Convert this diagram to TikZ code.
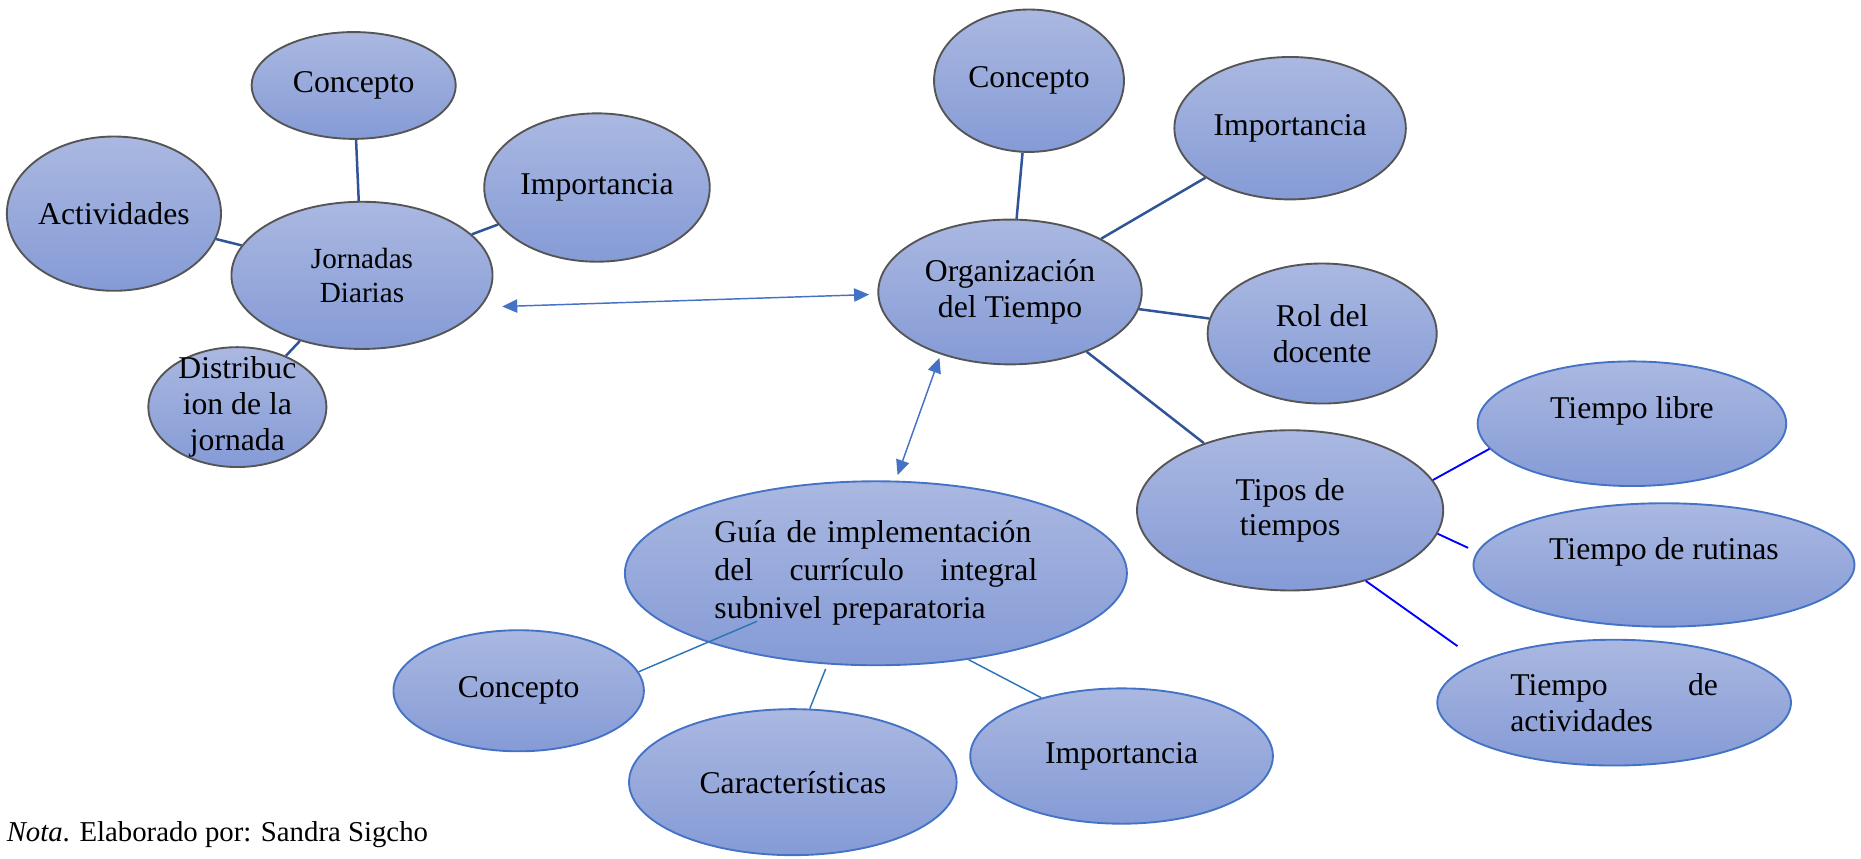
\documentclass[tikz,border=0pt]{standalone}
\usepackage{fontspec}
\setmainfont{Liberation Serif}
\usetikzlibrary{arrows.meta,calc,shapes.geometric}
\hyphenpenalty=10000

\definecolor{fillup}{RGB}{170,184,225}
\definecolor{filldown}{RGB}{133,155,214}
\definecolor{rimgray}{RGB}{85,85,85}
\definecolor{rimblue}{RGB}{68,114,196}
\definecolor{linkdark}{RGB}{47,85,151}
\definecolor{linkblue}{RGB}{0,0,255}
\definecolor{linklight}{RGB}{46,117,182}
\definecolor{arrowblue}{RGB}{68,114,196}

\begin{document}
\begin{tikzpicture}[x=0.1mm,y=-0.1mm,
  font=\fontsize{7.6}{8.6}\selectfont,
  burbuja/.style={ellipse,inner sep=0pt,top color=fillup,bottom color=filldown,draw=rimgray,line width=0.45pt,align=center},
  burbujaazul/.style={burbuja,draw=rimblue},
  rama/.style={draw=linkdark,line width=0.6pt},
  ramaazul/.style={draw=linkblue,line width=0.45pt},
  ramaclara/.style={draw=linklight,line width=0.35pt},
  doble/.style={draw=arrowblue,line width=0.35pt,{Triangle[length=3.6pt,width=3.2pt]}-{Triangle[length=3.6pt,width=3.2pt]}}]
\useasboundingbox (0,0) rectangle (1568,723);

\node[burbuja,minimum width=22mm,minimum height=12.4mm,font=\fontsize{7}{8.3}\selectfont] (jornadas) at (305,232) {Jornadas\\Diarias};
\node[burbuja,minimum width=17.2mm,minimum height=9mm] (jcon) at (298,72) {Concepto};
\node[burbuja,minimum width=19mm,minimum height=12.5mm] (jimp) at (503,158) {Importancia};
\node[burbuja,minimum width=17.2mm,minimum height=13mm] (jact) at (96,180) {Actividades};
\node[burbuja,minimum width=15mm,minimum height=10.1mm,label={[align=center]center:{Distribuc\\ion de la\\jornada}}] (jdist) at (200,343) {};

\node[burbuja,minimum width=22.2mm,minimum height=12.2mm] (org) at (851,246) {Organización\\del Tiempo};
\node[burbuja,minimum width=16mm,minimum height=12mm] (ocon) at (867,68) {Concepto};
\node[burbuja,minimum width=19.5mm,minimum height=12mm] (oimp) at (1087,108) {Importancia};
\node[burbuja,minimum width=19.3mm,minimum height=11.8mm] (orol) at (1114,281) {Rol del\\docente};
\node[burbuja,minimum width=25.8mm,minimum height=13.5mm] (otipos) at (1087,430) {Tipos de\\tiempos};

\node[burbujaazul,minimum width=26mm,minimum height=10.5mm,text height=5.5pt,text depth=8pt] (tlibre) at (1375,357) {Tiempo libre};
\node[burbujaazul,minimum width=32.1mm,minimum height=10.4mm,text height=5.5pt,text depth=8pt] (truti) at (1402,476) {Tiempo de rutinas};
\node[burbujaazul,minimum width=29.8mm,minimum height=10.6mm,text width=17.5mm,align=left] (tact) at (1360,592) {Tiempo\hfill de\\actividades};

\node[burbujaazul,minimum width=42.3mm,minimum height=15.5mm,text width=27.2mm,align=left,font=\fontsize{7.6}{9.1}\selectfont] (guia) at (738,483) {Guía de implementación\\del\hfill currículo\hfill integral\\subnivel preparatoria};
\node[burbujaazul,minimum width=21.1mm,minimum height=10.2mm] (gcon) at (437,582) {Concepto};
\node[burbujaazul,minimum width=27.6mm,minimum height=12.3mm] (gcar) at (668,659) {Características};
\node[burbujaazul,minimum width=25.5mm,minimum height=11.4mm] (gimp) at (945,637) {Importancia};

\node[anchor=west,inner sep=0pt,font=\fontsize{6.9}{8.3}\selectfont] (nota) at (5,703) {\textit{Nota}. Elaborado por: Sandra Sigcho};

\draw[rama] (jornadas) -- (jcon);
\draw[rama] (jornadas) -- (jimp);
\draw[rama] (jornadas) -- (jact);
\draw[rama] (jornadas) -- (jdist);
\draw[rama] (org) -- (ocon);
\draw[rama] (org) -- (oimp);
\draw[rama] (org) -- (orol);
\draw[rama] (org) -- (otipos);

\draw[ramaazul] (otipos.12) -- (tlibre.190);
\draw[ramaazul,shorten >=0.8mm] (otipos.-9) -- (truti.176);
\draw[ramaazul,shorten >=2.2mm] (otipos.-43) -- (tact.163);

\draw[ramaclara] (gcon.9) -- ($(guia.center)!0.7!(guia.-158)$);
\draw[ramaclara,shorten <=0.4mm] (guia.-118) -- (gcar.77);
\draw[ramaclara] (guia.-43) -- (gimp.144);

\draw[doble,shorten <=1.8mm,shorten >=0.7mm] (jornadas.-15) -- (org.181);
\draw[doble,shorten <=0.3mm,shorten >=0.5mm] (org.-138) -- (guia.78);
\end{tikzpicture}
\end{document}
